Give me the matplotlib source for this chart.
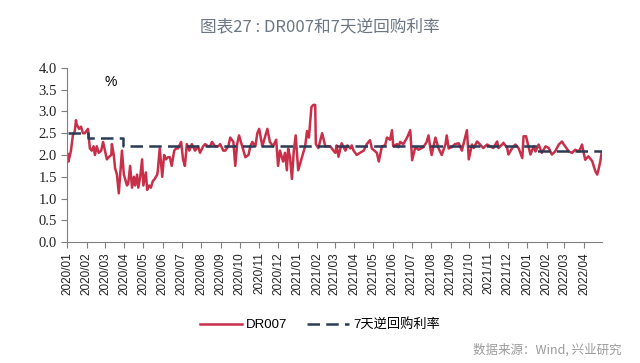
import matplotlib
matplotlib.use('Agg')
import matplotlib.pyplot as plt
import pandas as pd

# DR007 readings (approx)
dr_dates = ['2020-01-02', '2020-01-03', '2020-01-07', '2020-01-10', '2020-01-13', '2020-01-15',
            '2020-01-16', '2020-01-20', '2020-01-23', '2020-01-26', '2020-01-29', '2020-02-03',
            '2020-02-06', '2020-02-09', '2020-02-12', '2020-02-14', '2020-02-17', '2020-02-20',
            '2020-02-24', '2020-02-27', '2020-03-01', '2020-03-04', '2020-03-07', '2020-03-11',
            '2020-03-12', '2020-03-15', '2020-03-17', '2020-03-20', '2020-03-23', '2020-03-25',
            '2020-03-28', '2020-03-31', '2020-04-05', '2020-04-07', '2020-04-10', '2020-04-13',
            '2020-04-16', '2020-04-18', '2020-04-21', '2020-04-23', '2020-04-26', '2020-04-29',
            '2020-05-01', '2020-05-05', '2020-05-07', '2020-05-10', '2020-05-13', '2020-05-16',
            '2020-05-19', '2020-05-23', '2020-05-24', '2020-05-27', '2020-05-31', '2020-06-03',
            '2020-06-06', '2020-06-09', '2020-06-12', '2020-06-15', '2020-06-19', '2020-06-22',
            '2020-06-25', '2020-06-30', '2020-07-03', '2020-07-06', '2020-07-09', '2020-07-13',
            '2020-07-17', '2020-07-22', '2020-07-27', '2020-07-30', '2020-08-04', '2020-08-07',
            '2020-08-12', '2020-08-15', '2020-08-18', '2020-08-23', '2020-08-28', '2020-08-31',
            '2020-09-05', '2020-09-08', '2020-09-13', '2020-09-16', '2020-09-21', '2020-09-24',
            '2020-09-27', '2020-09-30', '2020-10-05', '2020-10-10', '2020-10-15', '2020-10-18',
            '2020-10-21', '2020-10-26', '2020-10-29', '2020-11-01', '2020-11-06', '2020-11-10',
            '2020-11-14', '2020-11-18', '2020-11-23', '2020-11-28', '2020-12-01', '2020-12-04',
            '2020-12-09', '2020-12-12', '2020-12-15', '2020-12-17', '2020-12-20', '2020-12-23',
            '2020-12-26', '2020-12-29', '2021-01-02', '2021-01-05', '2021-01-08', '2021-01-13',
            '2021-01-16', '2021-01-19', '2021-01-23', '2021-01-26', '2021-01-29', '2021-01-30',
            '2021-02-03', '2021-02-09', '2021-02-14',
            '2021-02-22', '2021-02-27', '2021-03-02', '2021-03-04', '2021-03-07', '2021-03-12',
            '2021-03-18', '2021-03-21', '2021-03-26', '2021-03-28', '2021-03-31', '2021-04-05',
            '2021-04-10', '2021-04-16', '2021-04-21', '2021-04-26', '2021-04-29', '2021-05-07',
            '2021-05-10', '2021-05-15', '2021-05-20', '2021-05-23', '2021-05-28', '2021-05-31',
            '2021-06-02', '2021-06-08', '2021-06-10', '2021-06-13', '2021-06-18', '2021-06-24',
            '2021-06-29', '2021-07-02', '2021-07-07', '2021-07-12', '2021-07-20', '2021-07-25',
            '2021-07-28', '2021-07-31', '2021-08-02', '2021-08-08', '2021-08-13', '2021-08-18',
            '2021-08-24', '2021-08-26', '2021-08-29', '2021-09-03', '2021-09-08', '2021-09-14',
            '2021-09-19', '2021-09-24', '2021-09-27', '2021-09-30', '2021-10-02', '2021-10-05',
            '2021-10-08', '2021-10-13', '2021-10-18', '2021-10-23', '2021-10-29', '2021-11-03',
            '2021-11-08', '2021-11-14', '2021-11-16', '2021-11-22', '2021-11-24', '2021-11-30',
            '2021-12-02', '2021-12-08', '2021-12-13', '2021-12-18', '2021-12-24', '2021-12-26',
            '2021-12-30', '2022-01-02', '2022-01-06', '2022-01-11', '2022-01-14', '2022-01-19',
            '2022-01-24', '2022-01-30', '2022-02-04', '2022-02-09', '2022-02-14', '2022-02-20',
            '2022-02-25', '2022-02-28', '2022-03-02', '2022-03-08', '2022-03-13', '2022-03-18',
            '2022-03-24', '2022-03-29', '2022-03-31', '2022-04-03', '2022-04-08', '2022-04-14',
            '2022-04-19', '2022-04-22', '2022-04-24', '2022-04-27', '2022-04-29']
dr007 = [2.02, 1.85, 2.1, 2.45, 2.55, 2.8,
         2.7, 2.6, 2.65, 2.5, 2.5, 2.6,
         2.15, 2.1, 2.2, 2.0, 2.2, 2.05,
         2.1, 2.3, 2.1, 1.9, 1.95, 2.0,
         2.25, 2.0, 1.7, 1.55, 1.12, 1.5,
         2.1, 1.55, 1.3, 1.35, 1.75, 1.25,
         1.5, 1.3, 1.55, 1.25, 1.5, 1.9,
         1.3, 1.6, 1.2, 1.3, 1.25, 1.4,
         1.45, 1.55, 1.65, 2.15, 1.5, 2.0,
         1.9, 1.95, 1.95, 1.75, 2.1, 2.15,
         2.15, 2.3, 1.9, 1.75, 2.25, 2.1,
         2.25, 2.1, 2.2, 2.05, 2.2, 2.25,
         2.2, 2.2, 2.3, 2.2, 2.2, 2.25,
         2.1, 2.1, 2.2, 2.4, 2.3, 1.75,
         2.25, 2.45, 2.2, 1.95, 2.0, 2.2,
         2.3, 2.2, 2.5, 2.6, 2.2, 2.4,
         2.6, 2.3, 2.2, 2.35, 1.75, 2.1,
         1.85, 2.05, 1.65, 2.15, 1.95, 1.45,
         2.1, 2.45, 1.65, 1.8, 1.95, 2.2,
         2.55, 2.4, 3.1, 3.15, 3.15, 2.25,
         2.16, 2.5, 2.2,
         2.2, 2.1, 2.05, 2.22, 1.96, 2.27,
         2.1, 2.22, 2.15, 2.22, 2.1, 2.0,
         2.05, 2.1, 2.25, 2.34, 2.15, 2.05,
         1.85, 2.2, 2.22, 2.4, 2.35, 2.57,
         2.2, 2.25, 2.18, 2.3, 2.25, 2.4,
         2.57, 1.88, 2.18, 2.12, 2.18, 2.3,
         2.45, 2.15, 2.0, 2.4, 2.15, 2.0,
         2.25, 2.45, 2.15, 2.18, 2.25, 2.27,
         2.1, 2.4, 2.57, 1.9, 2.04, 2.24,
         2.16, 2.31, 2.24, 2.16, 2.24, 2.2,
         2.16, 2.31, 2.16, 2.24, 2.28, 2.16,
         2.01, 2.16, 2.24, 2.16, 1.93, 2.43,
         2.43, 2.24, 2.01, 2.2, 2.08, 2.24,
         2.05, 2.2, 2.16, 2.01, 2.08, 2.24,
         2.31, 2.24, 2.2, 2.08, 2.05, 2.12,
         2.08, 2.24, 2.08, 1.89, 1.97, 1.86,
         1.63, 1.55, 1.66, 1.86, 2.05]

# 7-day reverse repo rate, step changes
rr_dates = ['2020-01-02', '2020-02-03', '2020-03-30', '2022-01-17', '2022-04-29']
rr_rate = [2.5, 2.4, 2.2, 2.1, 2.1]

months = pd.date_range('2020-01-01', '2022-04-01', freq='MS')
yticks = [0.0, 0.5, 1.0, 1.5, 2.0, 2.5, 3.0, 3.5, 4.0]

plt.rcParams['font.family'] = ['Liberation Sans', 'Noto Sans CJK SC']

fig = plt.figure(figsize=(6.4, 3.63), dpi=100)
ax = fig.add_axes([0.105, 0.333, 0.836, 0.48])

ax.plot(pd.to_datetime(dr_dates), dr007, color='#c8304a', lw=1.8, label='DR007')
ax.plot(pd.to_datetime(rr_dates), rr_rate, color='#2b3a55', lw=1.8, ls=(0, (5, 2.5)),
        drawstyle='steps-post', label='7天逆回购利率')

for s in ['top', 'right']:
    ax.spines[s].set_visible(False)
for s in ['left', 'bottom']:
    ax.spines[s].set_color('#7f7f7f')
ax.tick_params(colors='#7f7f7f', length=4, width=0.8)
ax.tick_params(labelcolor='#222222')

ax.set_ylim(0, 4)
ax.set_yticks(yticks)
ax.set_yticklabels(['%.1f' % v for v in yticks], fontsize=10.5,
                   fontfamily='Liberation Serif')
ax.set_xlim(pd.Timestamp('2020-01-01'), pd.Timestamp('2022-04-30'))
ax.set_xticks(months)
ax.set_xticklabels([d.strftime('%Y/%m') for d in months], rotation=90, fontsize=8.5)

ax.text(0.07, 0.92, '%', transform=ax.transAxes, fontsize=10, va='center')

fig.text(0.5, 0.925, '图表27 : DR007和7天逆回购利率', ha='center', va='center',
         fontsize=12, color='#6b7785', family=['Noto Sans CJK SC'])

fig.legend(loc='center', bbox_to_anchor=(0.5, 0.105), ncol=2, frameon=False, fontsize=9.5,
           handlelength=3.2, columnspacing=1.5, handletextpad=0.3)

fig.text(0.972, 0.035, '数据来源：Wind, 兴业研究', ha='right', va='center', fontsize=9,
         color='#9a9a9a', family=['Noto Sans CJK SC'])

fig.savefig('out.png', dpi=100, facecolor='white')
